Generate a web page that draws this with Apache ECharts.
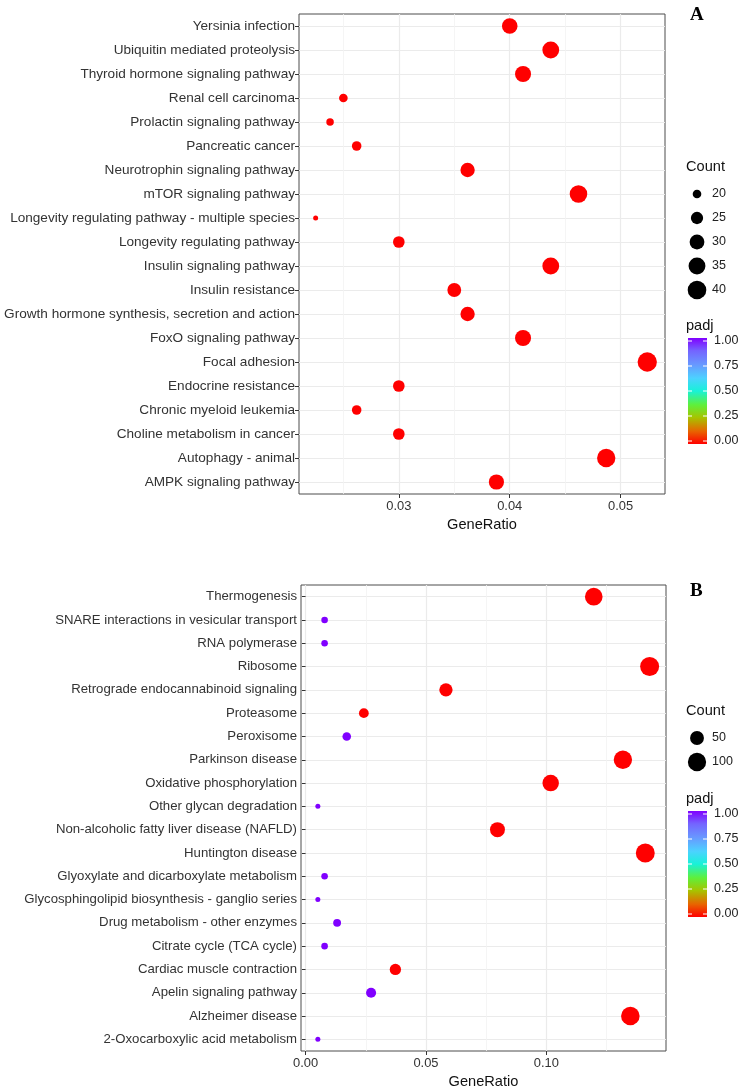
<!DOCTYPE html>
<html><head><meta charset="utf-8">
<script src="https://cdn.jsdelivr.net/npm/echarts@6/dist/echarts.min.js"></script>
<style>html,body{margin:0;padding:0;background:#fff}#c{width:743px;height:1090px}</style>
</head><body><div id="c"></div>
<script>
// ---------- Panel A data (listed bottom to top) ----------
const catsA = ['AMPK signaling pathway','Autophagy - animal','Choline metabolism in cancer','Chronic myeloid leukemia','Endocrine resistance','Focal adhesion','FoxO signaling pathway','Growth hormone synthesis, secretion and action','Insulin resistance','Insulin signaling pathway','Longevity regulating pathway','Longevity regulating pathway - multiple species','mTOR signaling pathway','Neurotrophin signaling pathway','Pancreatic cancer','Prolactin signaling pathway','Renal cell carcinoma','Thyroid hormone signaling pathway','Ubiquitin mediated proteolysis','Yersinia infection'];
const ratioA = [0.0388,0.0487,0.0300,0.0262,0.0300,0.0524,0.0412,0.0362,0.0350,0.0437,0.0300,0.0225,0.0462,0.0362,0.0262,0.0238,0.0250,0.0412,0.0437,0.0400];
const countA = [31,39,24,21,24,42,33,29,28,35,24,18,37,29,21,19,20,33,35,32];
const padjA  = [0,0,0,0,0,0,0,0,0,0,0,0,0,0,0,0,0,0,0,0];
const xTicksA = [0.03,0.04,0.05];
const countBreaksA = [20,25,30,35,40];

// ---------- Panel B data (listed bottom to top) ----------
const catsB = ['2-Oxocarboxylic acid metabolism','Alzheimer disease','Apelin signaling pathway','Cardiac muscle contraction','Citrate cycle (TCA cycle)','Drug metabolism - other enzymes','Glycosphingolipid biosynthesis - ganglio series','Glyoxylate and dicarboxylate metabolism','Huntington disease','Non-alcoholic fatty liver disease (NAFLD)','Other glycan degradation','Oxidative phosphorylation','Parkinson disease','Peroxisome','Proteasome','Retrograde endocannabinoid signaling','Ribosome','RNA polymerase','SNARE interactions in vesicular transport','Thermogenesis'];
const ratioB = [0.0051,0.1349,0.0272,0.0373,0.0079,0.0131,0.0051,0.0079,0.1411,0.0797,0.0051,0.1018,0.1318,0.0171,0.0242,0.0583,0.1429,0.0079,0.0079,0.1197];
const countB = [4,104,21,29,6,10,4,6,109,61,4,78,101,13,19,45,110,6,6,92];
const padjB  = [1,0,1,0,1,1,1,1,0,0,1,0,0,1,0,0,0,1,1,0];
const xTicksB = [0.00,0.05,0.10];
const countBreaksB = [50,100];

const padjBreaks = [0.00,0.25,0.50,0.75,1.00];

// ---------- styling ----------
const FONT = '"Liberation Sans", Arial, Helvetica, sans-serif';
const rampStops = [[0,'#FF0000'],[0.12,'#E86400'],[0.25,'#A6C400'],[0.37,'#5EF03C'],[0.5,'#18F2D8'],[0.62,'#4CD2FF'],[0.75,'#6898FF'],[0.88,'#7464FF'],[1,'#8000FF']];

function sizeFn(cmin, cmax, dmin, dmax) {
  return c => dmin + (dmax - dmin) * Math.pow(Math.max(0, (c - cmin) / (cmax - cmin)), 0.55);
}
const sizeA = sizeFn(Math.min(...countA), Math.max(...countA), 5, 19.3);
const sizeB = sizeFn(Math.min(...countB), Math.max(...countB), 5, 19);

function seriesData(cats, ratio, count, padj) {
  return cats.map((c, i) => [ratio[i], c, count[i], padj[i]]);
}

function yAxisCfg(gridIndex, cats, fs) {
  return {
    type: 'category', gridIndex, data: cats,
    axisLine: {show: false},
    axisTick: {show: true, alignWithLabel: true, length: 4, lineStyle: {color: '#333', width: 1}},
    axisLabel: {interval: 0, fontFamily: FONT, fontSize: fs, color: '#333', margin: 4},
    splitLine: {show: true, alignWithLabel: true, lineStyle: {color: '#EBEBEB', width: 1.2}}
  };
}
function xAxisCfg(gridIndex, min, max, ticks) {
  return {
    type: 'value', gridIndex, min, max, splitNumber: 3,
    minInterval: ticks[1] - ticks[0], maxInterval: ticks[1] - ticks[0],
    name: 'GeneRatio', nameLocation: 'middle', nameGap: 23,
    nameTextStyle: {fontFamily: FONT, fontSize: 14.6, color: '#111'},
    axisLine: {show: false},
    axisTick: {show: true, length: 4, lineStyle: {color: '#333'}, customValues: ticks},
    axisLabel: {fontFamily: FONT, fontSize: 12.9, color: '#333', margin: 6, customValues: ticks,
      formatter: v => v.toFixed(2)},
    splitLine: {show: true, lineStyle: {color: '#EBEBEB', width: 1.2}},
    minorTick: {show: false, splitNumber: 2},
    minorSplitLine: {show: true, lineStyle: {color: '#F2F2F2', width: 0.8}}
  };
}

// ---------- legend graphics ----------
function legendGraphics(x0, countTop, breaks, sfn, padjTop, barTop, barH) {
  const g = [];
  g.push({type: 'text', left: x0, top: countTop - 9, style: {text: 'Count', fontFamily: FONT, fontSize: 14.6, fill: '#111'}});
  breaks.forEach((b, i) => {
    const cy = countTop + 26 + 24 * i;
    g.push({type: 'circle', shape: {cx: x0 + 11, cy, r: sfn(b) / 2}, style: {fill: '#000'}});
    g.push({type: 'text', x: x0 + 26, y: cy, style: {text: String(b), fontFamily: FONT, fontSize: 12.5, fill: '#222', textVerticalAlign: 'middle'}});
  });
  g.push({type: 'text', left: x0, top: padjTop - 9, style: {text: 'padj', fontFamily: FONT, fontSize: 14.6, fill: '#111'}});
  const bx = x0 + 2, bw = 19;
  g.push({type: 'rect', shape: {x: bx, y: barTop, width: bw, height: barH},
    style: {fill: new echarts.graphic.LinearGradient(0, 1, 0, 0, rampStops.map(s => ({offset: s[0], color: s[1]})))}});
  const inset = 3;
  padjBreaks.forEach(v => {
    const y = barTop + inset + (1 - v) * (barH - 2 * inset);
    g.push({type: 'line', shape: {x1: bx, y1: y, x2: bx + 4, y2: y}, style: {stroke: '#fff', lineWidth: 1}});
    g.push({type: 'line', shape: {x1: bx + bw - 4, y1: y, x2: bx + bw, y2: y}, style: {stroke: '#fff', lineWidth: 1}});
    g.push({type: 'text', x: bx + bw + 7, y, style: {text: v.toFixed(2), fontFamily: FONT, fontSize: 12.5, fill: '#222', textVerticalAlign: 'middle'}});
  });
  return g;
}

const graphics = [].concat(
  legendGraphics(686, 168, countBreaksA, sizeA, 327, 338, 106),
  legendGraphics(686, 712, countBreaksB, sizeB, 800, 811, 106),
  [
    {type: 'text', left: 690, top: 6, style: {text: 'A', fontFamily: '"Liberation Serif", "Times New Roman", serif', fontWeight: 'bold', fontSize: 19, fill: '#000'}},
    {type: 'text', left: 690, top: 582, style: {text: 'B', fontFamily: '"Liberation Serif", "Times New Roman", serif', fontWeight: 'bold', fontSize: 19, fill: '#000'}}
  ]
);

const chart = echarts.init(document.getElementById('c'), null, {renderer: 'canvas'});
chart.setOption({
  animation: false,
  backgroundColor: '#fff',
  grid: [
    {left: 299, top: 14, width: 366, height: 480, show: true, borderColor: '#4d4d4d', borderWidth: 1, backgroundColor: 'transparent'},
    {left: 301, top: 585, width: 365, height: 467, show: true, borderColor: '#4d4d4d', borderWidth: 1, backgroundColor: 'transparent'}
  ],
  xAxis: [xAxisCfg(0, 0.021, 0.054, xTicksA), xAxisCfg(1, -0.0019, 0.1497, xTicksB)],
  yAxis: [yAxisCfg(0, catsA, 13.6), yAxisCfg(1, catsB, 13.2)],
  visualMap: {
    show: false, type: 'continuous', min: 0, max: 1, dimension: 3, seriesIndex: [0, 1],
    inRange: {color: rampStops.map(s => s[1])}
  },
  series: [
    {type: 'scatter', xAxisIndex: 0, yAxisIndex: 0, data: seriesData(catsA, ratioA, countA, padjA),
      symbolSize: v => sizeA(v[2]), itemStyle: {opacity: 1}},
    {type: 'scatter', xAxisIndex: 1, yAxisIndex: 1, data: seriesData(catsB, ratioB, countB, padjB),
      symbolSize: v => sizeB(v[2]), itemStyle: {opacity: 1}}
  ],
  graphic: graphics
});
</script>
</body></html>
